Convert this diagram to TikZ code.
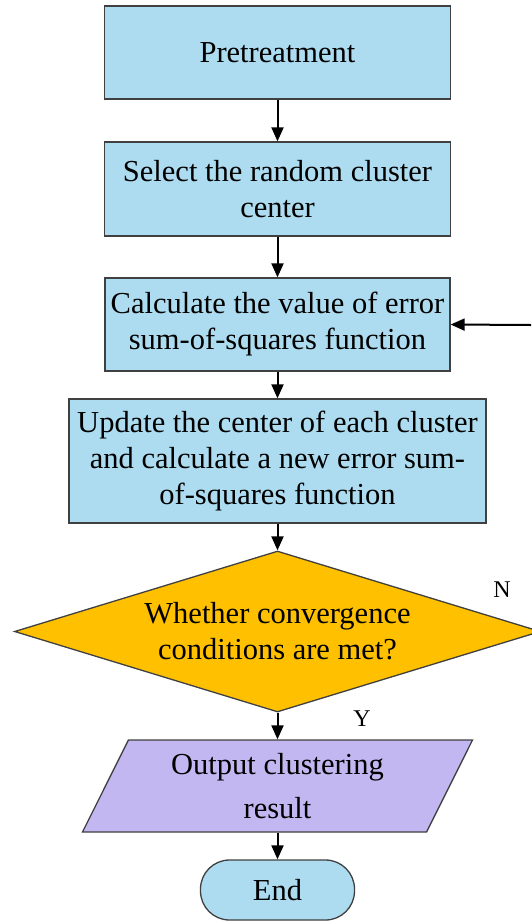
\documentclass[tikz,border=0pt]{standalone}
\usepackage{fontspec}
\setmainfont{Liberation Serif}
\usetikzlibrary{shapes.geometric,arrows.meta}
\definecolor{boxblue}{RGB}{173,220,240}
\definecolor{diaorange}{RGB}{255,192,0}
\definecolor{parapurple}{RGB}{194,183,240}
\definecolor{edgegray}{RGB}{64,64,64}
\begin{document}
\begin{tikzpicture}[x=1pt,y=-1pt,
  every node/.style={font=\fontsize{30.5}{36}\selectfont, align=center, inner sep=0pt},
  procbox/.style={draw=edgegray, line width=1.3pt, fill=boxblue, rectangle},
  decbox/.style={draw=edgegray, line width=1.3pt, fill=diaorange, diamond, aspect=3.2},
  iobox/.style={draw=edgegray, line width=1.3pt, fill=parapurple, trapezium, trapezium stretches=true,
     trapezium left angle=63.4, trapezium right angle=116.6},
  termbox/.style={draw=edgegray, line width=1.3pt, fill=boxblue, rectangle, rounded corners=29pt},
  flow/.style={line width=2pt, -{Triangle[length=14pt,width=12pt]}},
  lbl/.style={font=\fontsize{24}{28}\selectfont}
]
\useasboundingbox (0,0) rectangle (531,922);
\node[procbox, minimum width=346, minimum height=93] (pre) at (277.5,52.5) {Pretreatment};
\node[procbox, minimum width=346, minimum height=94] (sel) at (277.5,189) {Select the random cluster\\center};
\node[procbox, minimum width=345, minimum height=93] (calc) at (277.5,324.5) {Calculate the value of error\\sum-of-squares function};
\node[procbox, minimum width=417, minimum height=124] (upd) at (277.5,461) {Update the center of each cluster\\and calculate a new error sum-\\of-squares function};
\node[decbox, minimum width=526, minimum height=161] (dia) at (277.5,631.5) {Whether convergence\\conditions are met?};
\node[iobox, minimum width=391, minimum height=92, font=\fontsize{30.5}{44}\selectfont] (out) at (277.5,786) {Output clustering\\result};
\node[termbox, minimum width=154, minimum height=60] (end) at (277.5,890) {End};
\coordinate (loopin) at (531,325);
\draw[flow] (pre.south) -- (sel.north);
\draw[flow] (sel.south) -- (calc.north);
\draw[flow] (calc.south) -- (upd.north);
\draw[flow] (upd.south) -- (dia.north);
\draw[flow] (dia.south) -- (out.north -| dia.south);
\draw[flow] (out.south -| dia.south) -- (end.north);
\draw[flow] (loopin) -- (calc.east);
\node[lbl] (nlbl) at (502,590) {N};
\node[lbl] (ylbl) at (362,719) {Y};
\end{tikzpicture}
\end{document}
